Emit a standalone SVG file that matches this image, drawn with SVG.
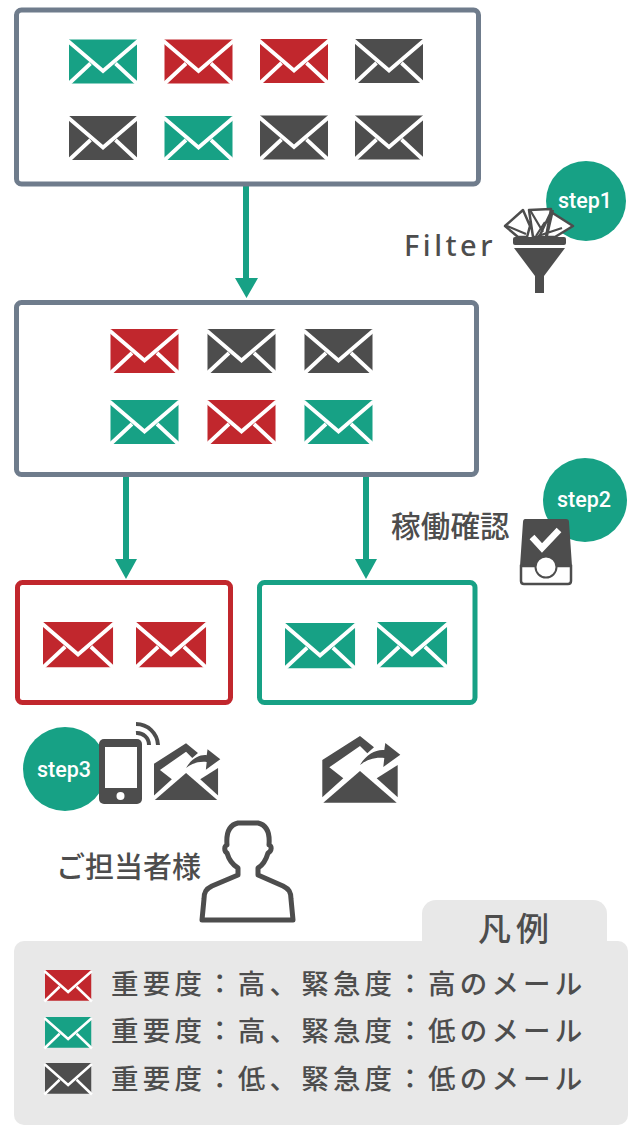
<svg xmlns="http://www.w3.org/2000/svg" width="640" height="1132" viewBox="0 0 640 1132">
<style>
text{font-family:"Noto Sans CJK JP","Noto Sans",sans-serif;fill:#4d4d4d;font-weight:500}
.box{fill:#fff;stroke-width:5}
.s{fill:#fff;font-family:"Roboto","Noto Sans",sans-serif;font-size:21.500px;font-weight:500;text-anchor:middle}
.lg{font-size:27.500px;letter-spacing:4.200px;font-weight:500}
.c{fill:none;stroke:#17a185;stroke-width:6}
.a{fill:#17a185}
.d{fill:#4d4d4d}
.g{fill:#17a185}.r{fill:#c1272d}
</style>
<defs>
<g id="m"><path d="M0 0H68V44H0Z"/><path d="M-1 1.500L34 31.500L69 1.500M-1 45L21.500 24M69 45L46.500 24" fill="none" stroke="#fff" stroke-width="3.800"/></g>
<g id="fw" class="d"><path d="M0 24L37.700 0L51.700 11.300L45 17.300L37.700 10L7 31.300L21 42.300L0 61.300Z"/><path d="M1 66.700L37.700 35L74.400 66.700Z"/><path d="M54.400 42.300L75.400 29V61.300Z"/><path d="M37.700 29C44 18 54 13 62 14L63 7L78 18.700L61 31L62 22C52 21 44 24 37.700 29Z"/></g>
</defs>
<g id="connectors">
<path class="c" d="M246 186V280M126 475V561M366 475V561"/>
<path class="a" d="M235 278H258L246.500 298ZM115 559H137L126 579ZM355 559H377L366 579Z"/>
</g>
<g id="box-all">
<rect class="box" x="16.500" y="10" width="462" height="174" rx="5" stroke="#6f7c8c"/>
<use href="#m" x="69" y="39.500" class="g"/><use href="#m" x="164.500" y="39.500" class="r"/><use href="#m" x="260" y="39" class="r"/><use href="#m" x="355" y="39" class="d"/>
<use href="#m" x="69" y="116" class="d"/><use href="#m" x="164.500" y="116" class="g"/><use href="#m" x="260" y="115.500" class="d"/><use href="#m" x="355" y="115.500" class="d"/>
</g>
<g id="box-filtered">
<rect class="box" x="16.500" y="302.500" width="460" height="172" rx="5" stroke="#6f7c8c"/>
<use href="#m" x="110.500" y="329" class="r"/><use href="#m" x="207.500" y="329" class="d"/><use href="#m" x="304.500" y="329" class="d"/>
<use href="#m" x="110.500" y="400" class="g"/><use href="#m" x="207.500" y="400" class="r"/><use href="#m" x="304.500" y="400" class="g"/>
</g>
<g id="box-red">
<rect class="box" x="17.500" y="582.500" width="213" height="120" rx="5" stroke="#c1272d"/>
<use href="#m" transform="translate(43 622) scale(1.030)" class="r"/><use href="#m" transform="translate(136 622) scale(1.030)" class="r"/>
</g>
<g id="box-green">
<rect class="box" x="259.500" y="582.500" width="215.500" height="120" rx="5" stroke="#17a185"/>
<use href="#m" transform="translate(285 623) scale(1.030)" class="g"/><use href="#m" transform="translate(377 622) scale(1.030)" class="g"/>
</g>
<g id="step1">
<circle cx="586" cy="201" r="40" class="a"/>
<text class="s" x="585" y="208">step1</text>
<text x="404" y="256" font-size="29" style="letter-spacing:3.500px;font-family:'Noto Sans',sans-serif;font-weight:500">Filter</text>
<path d="M505 226L523 210L530 226L527 237H518ZM529 210L551 209L546 237H533ZM551 212L573 226L555 237H539Z" fill="#fff" stroke="#4d4d4d" stroke-width="2.500" stroke-linejoin="round"/>
<path d="M507 226L526 234M530 210L543 232M545 222L536 236M562 228L538 236M553 210L547 236" fill="none" stroke="#4d4d4d" stroke-width="2.200"/>
<rect x="513" y="237" width="53" height="8" rx="2" class="d"/>
<path d="M514 248H565L544 276V293H535V276Z" class="d"/>
</g>
<g id="step2">
<circle cx="585" cy="500" r="42" class="a"/>
<text class="s" x="584" y="507">step2</text>
<text x="391" y="537" font-size="29.500" style="letter-spacing:.2px">稼働確認</text>
<path d="M525 519H566C568 519 569 520 569 522L572 566H520L523 522C523 520 524 519 525 519Z" class="d"/>
<path d="M521 566H571V581C571 583 570 584 568 584H524C522 584 521 583 521 581Z" fill="#fff" stroke="#4d4d4d" stroke-width="2.500"/>
<circle cx="546" cy="567" r="10.500" fill="#fff" stroke="#4d4d4d" stroke-width="2"/>
<path d="M532 537L542 548L559 530" fill="none" stroke="#fff" stroke-width="6.500"/>
</g>
<g id="step3">
<circle cx="65" cy="769" r="42" class="a"/>
<text class="s" x="64" y="777">step3</text>
<rect x="99" y="739" width="43" height="65" rx="5" class="d"/>
<rect x="105" y="747" width="32" height="41" fill="#fff"/>
<circle cx="120.500" cy="796" r="4" fill="#fff"/>
<path d="M136 724A22 22 0 0 1 158 745M136 733A12 12 0 0 1 149 745" fill="none" stroke="#4d4d4d" stroke-width="4"/>
<use href="#fw" transform="translate(154 743.300) scale(.85)"/>
</g>
<g id="forward-green">
<use href="#fw" transform="translate(322.300 736)"/>
</g>
<g id="person">
<text x="56" y="878" font-size="29">ご担当者様</text>
<path d="M238 823H258C267 825 270 833 269 845C272 846 272 851 268 853C266 860 263 865 258 868V875L283 886C289 889 291 892 291 899L293 920H202L204 899C204 892 206 889 212 886L238 875V868C233 865 229 860 227 853C224 851 224 846 227 845C226 833 229 825 238 823Z" fill="#fff" stroke="#4d4d4d" stroke-width="5" stroke-linejoin="round"/>
</g>
<g id="legend">
<rect x="422" y="900" width="185" height="70" rx="14" fill="#e8e8e8"/>
<rect x="14" y="941" width="614" height="184" rx="10" fill="#e8e8e8"/>
<text x="478" y="941" font-size="33" style="letter-spacing:5px">凡例</text>
<use href="#m" transform="translate(45 970) scale(.68 .70)" class="r"/>
<use href="#m" transform="translate(45 1017) scale(.68 .70)" class="g"/>
<use href="#m" transform="translate(45 1063) scale(.68 .70)" class="d"/>
<text class="lg" x="111" y="994">重要度：高、緊急度：高のメール</text>
<text class="lg" x="111" y="1041">重要度：高、緊急度：低のメール</text>
<text class="lg" x="111" y="1089">重要度：低、緊急度：低のメール</text>
</g>
</svg>
